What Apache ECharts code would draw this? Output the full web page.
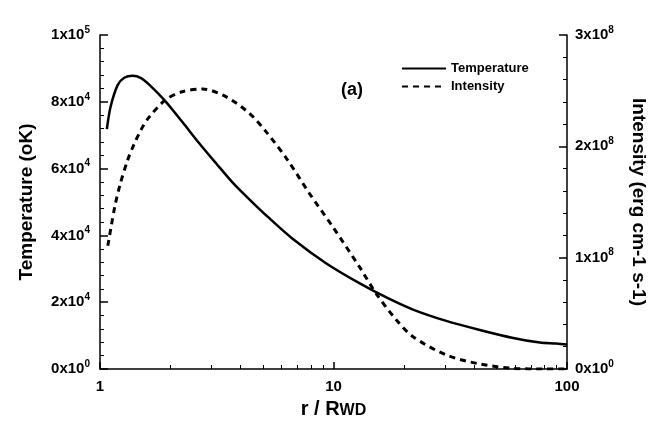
<!DOCTYPE html>
<html>
<head>
<meta charset="utf-8">
<script src="https://cdn.jsdelivr.net/npm/echarts@6/dist/echarts.min.js"></script>
<style>html,body{margin:0;padding:0;background:#fff}#c{width:658px;height:425px}</style>
</head>
<body>
<div id="c"></div>
<script>
// r / RWD values and series
const tempR = [1.07, 1.11, 1.19, 1.27, 1.38, 1.50, 1.62, 1.915, 2.25, 2.66, 3.14, 3.70, 4.36, 5.22, 6.68, 9.32, 12.9, 17.1, 21.9, 30.4, 42.3, 58.8, 76.5, 90, 100];
const tempK = [71800, 78500, 85000, 87200, 87800, 87100, 85200, 80000, 74000, 67600, 61600, 55800, 50800, 45600, 39000, 31600, 25700, 21200, 17800, 14400, 11700, 9300, 7900, 7600, 7300];
const intR = [1.08, 1.11, 1.16, 1.22, 1.31, 1.40, 1.50, 1.62, 1.915, 2.25, 2.75, 3.46, 4.36, 5.15, 6.36, 7.88, 9.92, 12.9, 15.2, 18.6, 21.9, 30.4, 42.3, 58.8, 80, 100];
const intV = [1.107e8, 1.25e8, 1.47e8, 1.66e8, 1.87e8, 2.02e8, 2.15e8, 2.26e8, 2.42e8, 2.49e8, 2.515e8, 2.446e8, 2.297e8, 2.13e8, 1.877e8, 1.578e8, 1.278e8, 0.919e8, 0.68e8, 0.44e8, 0.29e8, 0.126e8, 0.045e8, 0.006e8, 0.0, 0.0];
const xMinorTicks = [2, 3, 4, 5, 6, 7, 8, 9, 20, 30, 40, 50, 60, 70, 80, 90];
const seriesNames = ['Temperature', 'Intensity'];

const FONT = 'Liberation Sans';
function sci(v) {
  if (v === 0) return '{m|0x10}{s|0}';
  const e = Math.floor(Math.log10(v) + 1e-9);
  const m = Math.round(v / Math.pow(10, e));
  return '{m|' + m + 'x10}{s|' + e + '}';
}
const rich = {
  m: {fontFamily: FONT, fontWeight: 'bold', fontSize: 15, color: '#000'},
  s: {fontFamily: FONT, fontWeight: 'bold', fontSize: 10, color: '#000', verticalAlign: 'top', padding: [0, 0, 10, 0]}
};
const axisLine = {show: true, lineStyle: {color: '#000', width: 1.5}};

const chart = echarts.init(document.getElementById('c'), null, {renderer: 'canvas'});
chart.setOption({
  backgroundColor: '#fff',
  animation: false,
  title: {
    text: '(a)', left: 336, top: 76,
    textStyle: {fontFamily: FONT, fontWeight: 'bold', fontSize: 18, color: '#000'}
  },
  legend: {
    data: seriesNames,
    orient: 'vertical', left: 396, top: 57, itemWidth: 44, itemHeight: 12, itemGap: 5,
    itemStyle: {opacity: 0},
    textStyle: {fontFamily: FONT, fontWeight: 'bold', fontSize: 13, color: '#000'}
  },
  grid: {left: 100, right: 91, top: 35, bottom: 56},
  xAxis: [{
    type: 'log', logBase: 10, min: 1, max: 100,
    name: 'r / R{s|WD}', nameLocation: 'middle', nameGap: 30,
    nameTextStyle: {fontFamily: FONT, fontWeight: 'bold', fontSize: 20, color: '#000',
      rich: {s: {fontFamily: FONT, fontWeight: 'bold', fontSize: 16, color: '#000', verticalAlign: 'bottom'}}},
    axisLine: axisLine,
    axisTick: {show: true, inside: true, length: 7, lineStyle: {color: '#000', width: 1.5}},
    axisLabel: {fontFamily: FONT, fontWeight: 'bold', fontSize: 15, color: '#000', margin: 10},
    splitLine: {show: false}
  }, {
    type: 'log', logBase: 10, min: 1, max: 100, position: 'bottom',
    axisLine: {show: false},
    axisTick: {show: true, inside: true, length: 4, customValues: xMinorTicks, lineStyle: {color: '#000', width: 1}},
    axisLabel: {show: false},
    splitLine: {show: false}
  }],
  yAxis: [{
    type: 'value', min: 0, max: 1e5, interval: 2e4, position: 'left',
    name: 'Temperature (oK)', nameLocation: 'middle', nameGap: 64,
    nameTextStyle: {fontFamily: FONT, fontWeight: 'bold', fontSize: 19, color: '#000'},
    axisLine: axisLine,
    axisTick: {show: true, inside: true, length: 8, lineStyle: {color: '#000', width: 1.5}},
    minorTick: {show: true, splitNumber: 5, length: 4, lineStyle: {color: '#000', width: 1}},
    axisLabel: {formatter: sci, rich: rich, margin: 10},
    splitLine: {show: false}
  }, {
    type: 'value', min: 0, max: 3e8, interval: 1e8, position: 'right',
    name: 'Intensity (erg cm-1 s-1)', nameLocation: 'middle', nameGap: 62, nameRotate: -90,
    nameTextStyle: {fontFamily: FONT, fontWeight: 'bold', fontSize: 19, color: '#000'},
    axisLine: axisLine,
    axisTick: {show: true, inside: true, length: 8, lineStyle: {color: '#000', width: 1.5}},
    minorTick: {show: true, splitNumber: 5, length: 4, lineStyle: {color: '#000', width: 1}},
    axisLabel: {formatter: sci, rich: rich, margin: 8},
    splitLine: {show: false}
  }],
  series: [{
    name: seriesNames[0], type: 'line', xAxisIndex: 0, yAxisIndex: 0,
    data: tempR.map((r, i) => [r, tempK[i]]),
    smooth: 0.3, showSymbol: false, symbol: 'none', color: '#000',
    lineStyle: {color: '#000', width: 2.5, type: 'solid'}
  }, {
    name: seriesNames[1], type: 'line', xAxisIndex: 0, yAxisIndex: 1,
    data: intR.map((r, i) => [r, intV[i]]),
    smooth: 0.3, showSymbol: false, symbol: 'none', color: '#000',
    lineStyle: {color: '#000', width: 3, type: [6, 5]}
  }]
});
</script>
</body>
</html>
